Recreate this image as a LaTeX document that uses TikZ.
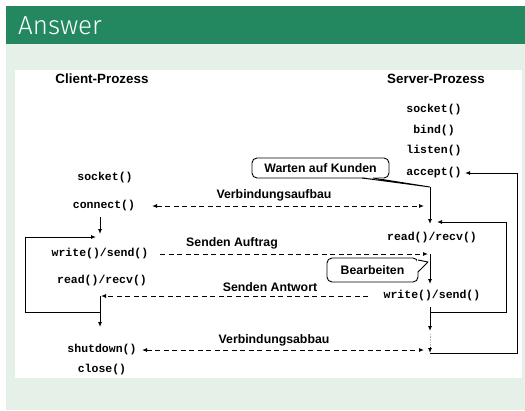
\documentclass[tikz,border=0pt]{standalone}
\usepackage{fontspec}
\setmainfont{Liberation Sans}
\newfontfamily\headfont{Fira Sans Light}
\newfontfamily\codefont{Liberation Mono}
\usetikzlibrary{arrows.meta}
\definecolor{barGreen}{RGB}{35,135,95}
\definecolor{paleGreen}{RGB}{228,240,232}
\tikzset{
  x=1pt, y=-1pt,
  code/.style={inner sep=0pt, font=\codefont\bfseries\fontsize{11.5}{12}\selectfont},
  lab/.style={inner sep=0pt, font=\bfseries\fontsize{12.3}{13}\selectfont},
  head/.style={inner sep=0pt, font=\bfseries\fontsize{13.4}{14}\selectfont},
  flow/.style={line width=0.9pt, -{Latex[length=5pt,width=4pt]}},
  plain/.style={line width=0.9pt},
  msg/.style={line width=0.9pt, dash pattern=on 5pt off 3.5pt},
  bubble/.style={draw, line width=0.9pt, rounded corners=5pt, fill=white, inner sep=0pt}
}
\begin{document}
\begin{tikzpicture}
\useasboundingbox (0,0) rectangle (525,410);
% frame: header bar, pale body, white panel
\fill[white] (0,0) rectangle (525,410);
\fill[paleGreen] (6,44) rectangle (525,410);
\fill[barGreen] (6,6) rectangle (525,44);
\node[anchor=base west, inner sep=0pt, text=white, font=\headfont\fontsize{26}{28}\selectfont] (title) at (18,34) {Answer};
\fill[white] (15,70) rectangle (522,378);

% column headings
\node[head] (chead) at (102,79) {Client-Prozess};
\node[head] (shead) at (436,79) {Server-Prozess};

% server calls
\node[code] (ssocket) at (434,110) {socket()};
\node[code] (sbind)   at (434,131) {bind()};
\node[code] (slisten) at (434,151) {listen()};
\node[code] (saccept) at (434,173) {accept()};
\node[code] (sread)   at (432,238) {read()/recv()};
\node[code] (swrite)  at (432,296) {write()/send()};

% client calls
\node[code] (csocket)  at (105,178) {socket()};
\node[code] (cconnect) at (104,206) {connect()};
\node[code] (cwrite)   at (100,254) {write()/send()};
\node[code] (cread)    at (102,281) {read()/recv()};
\node[code] (cshut)    at (102,350) {shutdown()};
\node[code] (cclose)   at (102,370) {close()};

% message labels
\node[lab] (lAufbau)  at (274,195) {Verbindungsaufbau};
\node[lab] (lAuftrag) at (232,243) {Senden Auftrag};
\node[lab] (lAntwort) at (270,287) {Senden Antwort};
\node[lab] (lAbbau)   at (274,340) {Verbindungsabbau};

% server time line
\coordinate (s1) at (430,187);
\coordinate (s2) at (430,224);
\coordinate (s3) at (430,254);
\coordinate (s4) at (430,284);
\coordinate (s5) at (430,307);
\coordinate (s6) at (430,331);
\coordinate (s7) at (430,353);
\draw[flow] (s1) -- (s2);
\draw[flow] (s3) -- (s4);
\draw[flow] (s5) -- (s6);
\draw[densely dotted, gray!60, line width=0.6pt] (430,334) -- (430,348);
\draw[flow] (430,347) -- (s7);

% server loops
\coordinate (r1) at (506,312);
\coordinate (r2) at (506,222);
\coordinate (q1) at (517,353);
\coordinate (q2) at (517,173);
\draw[flow] (430,312) -- (r1) -- (r2) -- (437,222);
\draw[flow] (s7) -- (q1) -- (q2) -- (465,173);

% client time line and loop
\coordinate (c1) at (100,217);
\coordinate (c2) at (100,234);
\coordinate (c3) at (100,296);
\coordinate (c4) at (100,327);
\coordinate (l1) at (25,312);
\coordinate (l2) at (25,237);
\draw[flow] (c1) -- (c2);
\draw[flow] (c3) -- (c4);
\draw[flow] (100,312) -- (l1) -- (l2) -- (96,237);

% messages
\draw[msg, {Latex[length=5pt,width=4pt]}-{Latex[length=5pt,width=4pt]}] (152,206) -- (424,206);
\draw[msg, -{Latex[length=5pt,width=4pt]}] (160,254) -- (428,254);
\draw[msg, -{Latex[length=5pt,width=4pt]}] (368,296) -- (101,296);
\draw[msg, {Latex[length=5pt,width=4pt]}-{Latex[length=5pt,width=4pt]}] (142,350) -- (424,350);

% callouts
\node[bubble, minimum width=137pt, minimum height=20pt] (wait) at (320.5,168) {};
\node[lab] (waittext) at (wait.center) {Warten auf Kunden};
\fill[white] (362,177) -- (s1) -- (373,177) -- cycle;
\draw[plain, line join=round] (362,178) -- (s1) -- (373,178);

\node[bubble, minimum width=91pt, minimum height=24pt] (work) at (372.5,270) {};
\node[lab] (worktext) at (work.center) {Bearbeiten};
\fill[white] (417,260) -- (428,262) -- (417,272) -- cycle;
\draw[plain, line join=round] (418,260) -- (428,262) -- (418,272);
\end{tikzpicture}
\end{document}
